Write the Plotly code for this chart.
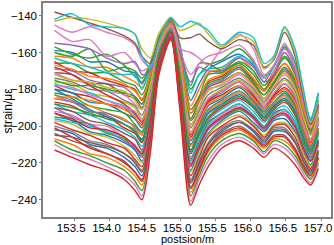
import plotly.graph_objects as go

# knot positions along the fibre (m)
position_m = [153.22, 153.47, 153.72, 153.96, 154.21, 154.36, 154.46, 154.58, 154.7, 154.87,
              155.0, 155.15, 155.27, 155.4, 155.59, 155.84, 156.04, 156.19, 156.33, 156.48,
              156.63, 156.75, 156.85, 156.96]

y_ticks = [-240, -220, -200, -180, -160, -140]
x_ticks = [153.5, 154.0, 154.5, 155.0, 155.5, 156.0, 156.5, 157.0]

# bulk strain curves (με), top to bottom
b00 = [-159,-160,-165,-165,-170,-171,-177,-166,-151,-142,-156,-186,-177,-169,-165,-161,-167,-176,-167,-158,-167,-184,-196,-182]
b01 = [-162,-163,-168,-168,-173,-176,-179,-169,-152,-143,-157,-189,-180,-171,-169,-163,-170,-178,-170,-160,-170,-188,-198,-186]
b02 = [-166,-166,-171,-171,-176,-178,-183,-171,-153,-143,-160,-191,-184,-172,-171,-166,-172,-180,-172,-163,-172,-190,-199,-188]
b03 = [-165,-170,-171,-175,-178,-180,-186,-173,-154,-144,-162,-193,-185,-176,-173,-167,-175,-181,-173,-166,-175,-191,-202,-189]
b04 = [-169,-170,-175,-177,-179,-184,-188,-175,-155,-144,-163,-196,-187,-178,-175,-169,-177,-183,-176,-169,-176,-193,-203,-191]
b05 = [-171,-172,-177,-177,-183,-185,-190,-176,-155,-145,-164,-197,-190,-179,-176,-171,-177,-185,-177,-170,-178,-195,-204,-192]
b06 = [-171,-175,-177,-181,-183,-188,-191,-178,-156,-145,-165,-199,-191,-180,-178,-172,-179,-186,-179,-172,-180,-196,-205,-193]
b07 = [-174,-176,-180,-181,-186,-189,-194,-179,-157,-145,-166,-201,-192,-183,-179,-174,-180,-187,-180,-174,-181,-197,-207,-195]
b08 = [-176,-177,-182,-184,-187,-190,-196,-180,-157,-146,-167,-203,-194,-185,-180,-175,-181,-188,-182,-175,-183,-199,-207,-196]
b09 = [-177,-180,-182,-186,-189,-194,-197,-182,-158,-146,-168,-204,-196,-186,-182,-176,-183,-190,-183,-177,-185,-200,-208,-197]
b10 = [-178,-182,-184,-188,-190,-196,-199,-184,-159,-146,-169,-206,-198,-187,-183,-178,-184,-191,-184,-179,-186,-201,-209,-198]
b11 = [-180,-182,-187,-188,-193,-196,-201,-185,-159,-147,-170,-208,-199,-189,-185,-179,-186,-192,-185,-181,-188,-202,-211,-199]
b12 = [-182,-184,-189,-191,-193,-199,-203,-187,-160,-147,-171,-210,-200,-191,-186,-181,-187,-193,-187,-182,-189,-204,-212,-201]
b13 = [-183,-187,-189,-193,-196,-201,-205,-188,-160,-148,-172,-211,-203,-192,-187,-182,-188,-195,-188,-184,-191,-205,-213,-202]
b14 = [-185,-187,-192,-194,-199,-202,-208,-189,-161,-148,-173,-213,-204,-193,-189,-184,-190,-196,-189,-186,-193,-206,-214,-203]
b15 = [-187,-189,-194,-195,-201,-204,-209,-191,-162,-148,-174,-215,-205,-196,-190,-185,-190,-197,-191,-187,-194,-208,-215,-204]
b16 = [-188,-192,-194,-198,-202,-206,-211,-192,-162,-149,-175,-217,-207,-197,-191,-186,-192,-198,-192,-189,-196,-209,-216,-205]
b17 = [-190,-192,-197,-199,-204,-207,-213,-194,-163,-149,-177,-218,-209,-198,-193,-188,-194,-200,-193,-191,-198,-210,-217,-207]
b18 = [-192,-194,-199,-200,-206,-210,-215,-195,-164,-149,-178,-220,-211,-200,-194,-189,-195,-201,-195,-192,-199,-212,-218,-208]
b19 = [-193,-197,-199,-204,-207,-213,-216,-197,-164,-150,-179,-222,-212,-201,-196,-191,-196,-202,-196,-194,-201,-213,-219,-209]
b20 = [-195,-197,-203,-205,-209,-213,-219,-198,-165,-150,-180,-224,-213,-204,-197,-192,-198,-203,-197,-196,-203,-214,-221,-210]
b21 = [-197,-199,-204,-206,-211,-216,-220,-200,-165,-150,-181,-225,-215,-205,-198,-194,-199,-205,-199,-198,-204,-215,-222,-211]
b22 = [-198,-202,-205,-209,-212,-218,-222,-201,-166,-151,-182,-227,-217,-206,-200,-195,-200,-206,-200,-199,-206,-217,-223,-213]
b23 = [-200,-203,-208,-210,-215,-219,-224,-203,-167,-151,-183,-229,-219,-209,-201,-197,-202,-207,-201,-201,-208,-218,-224,-214]
b24 = [-202,-204,-210,-212,-217,-222,-227,-204,-168,-151,-184,-231,-221,-210,-203,-198,-203,-209,-203,-203,-209,-219,-225,-215]
b25 = [-204,-208,-211,-215,-219,-225,-229,-206,-168,-152,-186,-233,-223,-212,-204,-200,-205,-210,-205,-205,-212,-221,-226,-217]
b26 = [-207,-210,-215,-217,-222,-227,-232,-208,-169,-152,-188,-236,-225,-214,-206,-202,-207,-212,-207,-208,-214,-223,-228,-218]
b27 = [-208,-213,-216,-220,-224,-230,-235,-210,-170,-153,-189,-238,-227,-216,-208,-204,-208,-214,-208,-210,-216,-224,-229,-220]
b28 = [-210,-215,-218,-222,-227,-232,-238,-212,-171,-153,-190,-241,-229,-219,-210,-206,-210,-215,-210,-212,-218,-226,-231,-221]
b29 = [-213,-217,-221,-224,-229,-235,-240,-214,-172,-153,-192,-243,-232,-222,-212,-208,-212,-217,-212,-215,-221,-228,-232,-223]

# further curves that cross the others
e01 = [-168,-172,-178,-183,-188,-193,-198,-183,-158,-146,-168,-205,-196,-186,-181,-176,-183,-189,-183,-177,-184,-199,-208,-196]
e02 = [-175,-178,-178,-180,-182,-184,-188,-175,-155,-144,-163,-196,-186,-177,-174,-168,-176,-183,-176,-168,-176,-192,-203,-190]
e03 = [-180,-185,-191,-195,-199,-203,-207,-189,-161,-148,-173,-213,-203,-193,-188,-183,-189,-195,-189,-185,-192,-206,-213,-203]
e04 = [-185,-184,-186,-188,-191,-195,-200,-184,-159,-146,-169,-207,-198,-188,-184,-178,-185,-191,-185,-180,-187,-201,-210,-198]
e05 = [-190,-195,-199,-203,-208,-212,-217,-197,-164,-150,-179,-222,-212,-202,-196,-190,-196,-202,-196,-194,-201,-213,-219,-209]
e06 = [-196,-198,-200,-203,-206,-211,-214,-195,-164,-149,-178,-219,-210,-199,-193,-188,-194,-200,-194,-191,-198,-211,-218,-207]
e07 = [-201,-206,-212,-215,-220,-225,-230,-207,-169,-152,-187,-234,-224,-213,-205,-201,-206,-211,-206,-206,-213,-222,-227,-217]
e08 = [-205,-206,-209,-211,-215,-220,-225,-203,-167,-151,-183,-230,-220,-210,-202,-198,-202,-208,-202,-202,-209,-219,-224,-214]
e09 = [-172,-175,-176,-179,-181,-186,-191,-177,-156,-145,-165,-200,-190,-181,-177,-171,-178,-185,-178,-171,-179,-195,-205,-192]
e10 = [-178,-179,-183,-186,-190,-192,-197,-182,-158,-146,-168,-204,-195,-185,-181,-176,-182,-189,-182,-177,-184,-199,-208,-196]
e11 = [-183,-186,-192,-193,-197,-200,-204,-187,-160,-147,-171,-210,-202,-191,-186,-181,-187,-194,-187,-183,-190,-204,-212,-201]
e12 = [-188,-190,-193,-196,-199,-203,-208,-190,-161,-148,-173,-214,-205,-195,-189,-184,-190,-196,-190,-186,-193,-207,-214,-203]
e13 = [-193,-196,-201,-202,-206,-211,-215,-196,-164,-149,-179,-221,-211,-201,-195,-190,-195,-201,-195,-193,-200,-212,-219,-208]
e14 = [-167,-169,-173,-174,-177,-181,-185,-172,-154,-144,-161,-193,-186,-175,-172,-167,-174,-181,-174,-166,-174,-191,-201,-189]

# upper curves that stay high after the main peak
t_cyan   = [-142,-139,-145,-146,-147,-150,-162,-168,-154,-141,-146,-143,-145,-148,-156,-149,-152,-166,-162,-146,-158,-180,-197,-184]
t_olive  = [-143,-141,-142,-144,-147,-150,-158,-163,-150,-141,-148,-146,-144,-150,-157,-151,-154,-169,-163,-147,-160,-182,-198,-186]
t_brown  = [-138,-141,-144,-147,-151,-155,-162,-166,-152,-142,-152,-152,-150,-154,-158,-153,-156,-168,-164,-149,-162,-185,-199,-188]
t_pink   = [-145,-149,-146,-149,-152,-156,-164,-168,-153,-142,-158,-160,-163,-167,-158,-150,-158,-172,-167,-155,-168,-188,-200,-190]
t_purple = [-155,-156,-158,-163,-166,-165,-172,-170,-153,-143,-160,-176,-168,-170,-170,-163,-168,-176,-172,-160,-170,-188,-199,-188]
t_pink2  = [-148,-154,-153,-162,-160,-166,-170,-167,-152,-142,-159,-172,-166,-162,-160,-156,-164,-174,-170,-158,-168,-187,-198,-187]
t_green  = [-160,-162,-158,-170,-168,-170,-174,-166,-150,-142,-158,-178,-166,-166,-170,-165,-170,-178,-172,-162,-170,-187,-197,-186]
t_cyan2  = [-163,-166,-168,-171,-172,-172,-180,-168,-152,-143,-159,-182,-172,-169,-168,-162,-166,-174,-168,-156,-165,-184,-196,-182]
t_green2 = [-157,-161,-163,-161,-167,-173,-176,-167,-151,-142,-157,-180,-172,-167,-164,-158,-165,-173,-167,-157,-166,-186,-197,-186]

BLUE, ORANGE, GREEN, RED, PURPLE = "#1f77b4", "#ff7f0e", "#2ca02c", "#d62728", "#9467bd"
BROWN, PINK, GRAY, OLIVE, CYAN = "#8c564b", "#e377c2", "#7f7f7f", "#bcbd22", "#17becf"

bulk = [b00, b01, b02, b03, b04, b05, b06, b07, b08, b09, b10, b11, b12, b13, b14,
        b15, b16, b17, b18, b19, b20, b21, b22, b23, b24, b25, b26, b27, b28, b29]
bulk_colors = [BLUE, ORANGE, GREEN, RED, PURPLE, BROWN, PINK, GRAY, OLIVE, CYAN,
               RED, BLUE, GREEN, ORANGE, PURPLE, RED, CYAN, BROWN, PINK, GREEN,
               BLUE, OLIVE, RED, GRAY, BLUE, BROWN, ORANGE, GREEN, PINK, RED]
extra = [e01, e02, e03, e04, e05, e06, e07, e08, e09, e10, e11, e12, e13, e14]
extra_colors = [RED, GREEN, BLUE, ORANGE, PURPLE, CYAN, RED, BROWN, OLIVE, PINK,
                GRAY, GREEN, RED, ORANGE]
tops = [t_green2, t_cyan2, t_green, t_pink2, t_purple, t_pink, t_brown, t_olive, t_cyan]
top_colors = [GREEN, CYAN, GREEN, PINK, PURPLE, PINK, BROWN, OLIVE, CYAN]

fig = go.Figure()
pairs = (list(zip(bulk, bulk_colors)) + list(zip(extra, extra_colors))
         + list(zip(tops, top_colors)))
for ys, c in pairs:
    fig.add_trace(go.Scatter(x=position_m, y=ys, mode="lines",
                             line=dict(color=c, width=1.4, shape="spline", smoothing=0.8),
                             hoverinfo="skip"))

axis_common = dict(showline=True, mirror=True, linecolor="#808080", linewidth=1.5,
                   ticks="outside", ticklen=2, tickcolor="#808080", showgrid=False,
                   zeroline=False, automargin=False, ticklabeloverflow="allow",
                   tickfont=dict(size=11.5, color="black"))
fig.update_layout(
    width=334, height=245,
    margin=dict(l=43, r=3, t=3, b=28),
    paper_bgcolor="white", plot_bgcolor="white", showlegend=False,
    font=dict(family="Liberation Sans, Arial, sans-serif", size=12, color="black"),
    xaxis=dict(range=[153.057, 157.14], tickvals=x_ticks, ticklabelstandoff=-3,
               ticklabelshift=-3,
               ticktext=[f"{v:.1f}" for v in x_ticks], **axis_common),
    yaxis=dict(range=[-249.4, -133.1], tickvals=y_ticks, **axis_common),
    annotations=[
        dict(text="postsion/m", xref="paper", yref="paper", x=0.5, y=-0.104,
             xanchor="center", yanchor="middle", showarrow=False,
             font=dict(size=11, color="black")),
        dict(text="strain/με", xref="paper", yref="paper", x=-0.12, y=0.5,
             xanchor="center", yanchor="middle", textangle=-90, showarrow=False,
             font=dict(size=12, color="black")),
    ],
)
fig.write_html("out.html", config={"displayModeBar": False},
               post_script="document.body.style.margin='0';document.body.style.overflow='hidden';")
